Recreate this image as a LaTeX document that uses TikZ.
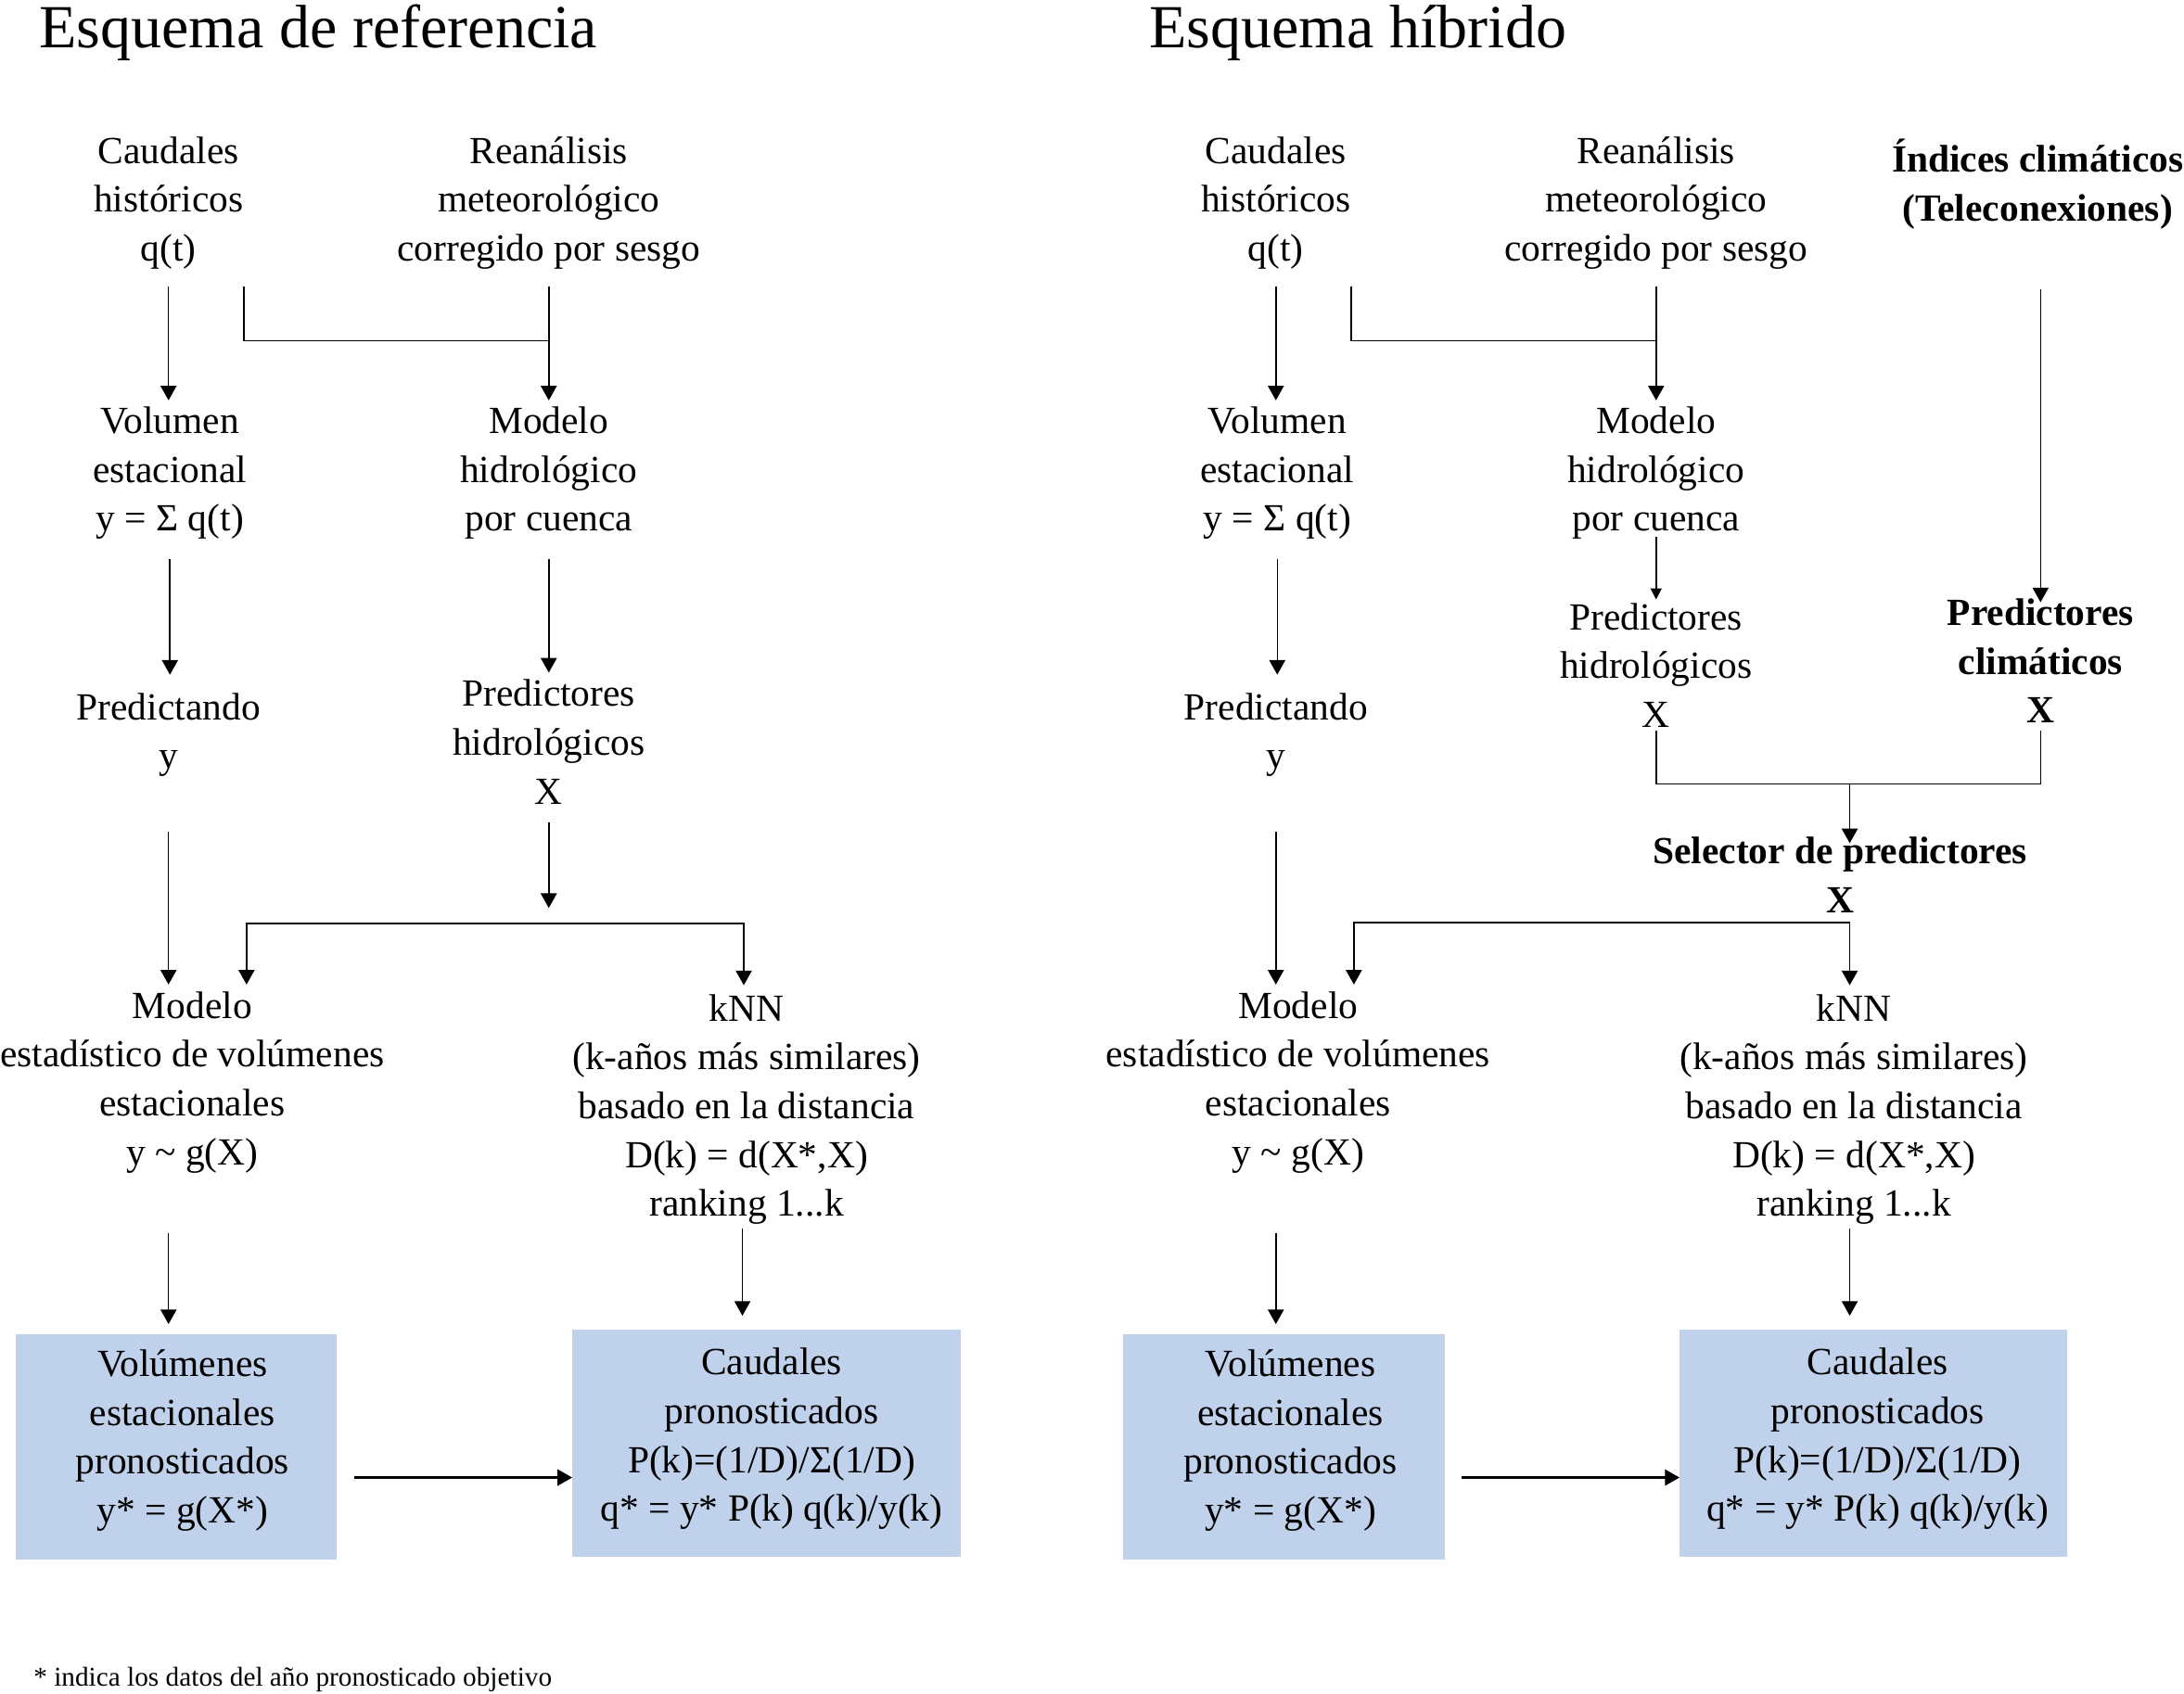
\documentclass[tikz,border=0pt]{standalone}
\usepackage{fontspec}
\setmainfont{Liberation Serif}
\usetikzlibrary{arrows.meta}
\definecolor{boxblue}{RGB}{192,209,235}

\tikzset{
  txt/.style={font=\fontsize{27.6}{35}\selectfont, align=center, inner sep=0pt,
    execute at begin node=\strut, execute at end node=\strut},
  txtb/.style={txt, font=\fontsize{27.6}{35}\selectfont\bfseries},
  outbox/.style={fill=boxblue, inner sep=0pt},
  arr/.style={-{Triangle[length=10.5pt,width=11.5pt]}, line width=1pt},
  arrsmall/.style={-{Triangle[length=8pt,width=8pt]}, line width=1pt},
  title/.style={font=\fontsize{44}{50}\selectfont, anchor=base west, inner sep=0pt},
}

\begin{document}
\begin{tikzpicture}[x=1pt, y=-1pt]
                \useasboundingbox (0,0) rectangle (1568,1215.8);

                % Esquema de referencia
                \node[title] (titleL) at (28,34) {Esquema de referencia};
                \node[txt] (caudL) at (121,148) {Caudales\\históricos\\q(t)};
                \node[txt] (reanL) at (394,148) {Reanálisis\\meteorológico\\corregido por sesgo};
                \node[txt] (volL) at (122,342) {Volumen\\estacional\\y = Σ q(t)};
                \node[txt] (hidroL) at (394,342) {Modelo\\hidrológico\\por cuenca};
                \node[txt] (predyL) at (121,530) {Predictando\\y};
                \node[txt] (predxL) at (394,538) {Predictores\\hidrológicos\\X};
                \node[txt] (estL) at (138,779.5) {Modelo\\estadístico de volúmenes\\estacionales\\y \char`\~{} g(X)};
                \node[txt] (knnL) at (536,799) {kNN\\(k-años más similares)\\basado en la distancia\\D(k) = d(X*,X)\\ranking 1...k};
                \node[outbox, minimum width=231pt, minimum height=162pt] (volpL) at (126.5,1039) {};
                \node[txt] (volpLt) at (131,1036.5) {Volúmenes\\estacionales\\pronosticados\\y* = g(X*)};
                \node[outbox, minimum width=279pt, minimum height=163pt] (caudpL) at (550.5,1036.5) {};
                \node[txt] (caudpLt) at (554,1035.5) {Caudales\\pronosticados\\P(k)=(1/D)/Σ(1/D)\\q* = y* P(k) q(k)/y(k)};
                \coordinate (splitL) at (predxL.south |- 0,663);

                \draw[arr, shorten <=7.5pt, shorten >=4.5pt] (caudL.south) -- (caudL.south |- volL.north);
                \draw[arr, shorten <=7.5pt, shorten >=4.5pt] (reanL.south) -- (hidroL.north);
                \draw[line width=1pt] ([xshift=54pt,yshift=-7.5pt]caudL.south) |- ([yshift=-46.5pt]reanL.south);
                \draw[arr, shorten <=9.5pt, shorten >=13pt] (volL.south) -- (volL.south |- predyL.north);
                \draw[arr, shorten <=9.5pt, shorten >=5pt] (hidroL.south) -- (predxL.north);
                \draw[arr, shorten <=35pt, shorten >=5pt] (predyL.south) -- (predyL.south |- estL.north);
                \draw[arr, shorten <=2.5pt, shorten >=11pt] (predxL.south) -- (splitL);
                \draw[arr, shorten >=5pt] (splitL) -| ([xshift=39pt]estL.north);
                \draw[arr, shorten >=6.5pt] (splitL) -| ([xshift=-2pt]knnL.north);
                \draw[arr, shorten <=38.5pt, shorten >=7pt] ([xshift=-17pt]estL.south) -- ([xshift=-17pt]estL.south |- volpL.north);
                \draw[arr, shorten <=-1.5pt, shorten >=10pt] ([xshift=-3pt]knnL.south) -- ([xshift=-3pt]knnL.south |- caudpL.north);
                \draw[arr, line width=1.6pt, shorten <=12pt] ([yshift=-22pt]volpL.east) -- ([yshift=-22pt]volpL.east -| caudpL.west);

                % Esquema hibrido
                \node[title] (titleR) at (825,34) {Esquema híbrido};
                \node[txt] (caudR) at (916,148) {Caudales\\históricos\\q(t)};
                \node[txt] (reanR) at (1189,148) {Reanálisis\\meteorológico\\corregido por sesgo};
                \node[txtb] (indR) at (1463,134.5) {Índices climáticos\\(Teleconexiones)};
                \node[txt] (volR) at (917,342) {Volumen\\estacional\\y = Σ q(t)};
                \node[txt] (hidroR) at (1189,342) {Modelo\\hidrológico\\por cuenca};
                \node[txt] (predxR) at (1189,483) {Predictores\\hidrológicos\\X};
                \node[txtb] (predcR) at (1465,480) {Predictores\\climáticos\\X};
                \node[txt] (predyR) at (916,530) {Predictando\\y};
                \node[txtb] (selR) at (1321,633.5) {Selector de predictores\\X};
                \node[txt] (estR) at (932,779.5) {Modelo\\estadístico de volúmenes\\estacionales\\y \char`\~{} g(X)};
                \node[txt] (knnR) at (1331,799) {kNN\\(k-años más similares)\\basado en la distancia\\D(k) = d(X*,X)\\ranking 1...k};
                \node[outbox, minimum width=231pt, minimum height=162pt] (volpR) at (921.5,1039) {};
                \node[txt] (volpRt) at (926.5,1036.5) {Volúmenes\\estacionales\\pronosticados\\y* = g(X*)};
                \node[outbox, minimum width=278pt, minimum height=163pt] (caudpR) at (1345,1036.5) {};
                \node[txt] (caudpRt) at (1348,1035.5) {Caudales\\pronosticados\\P(k)=(1/D)/Σ(1/D)\\q* = y* P(k) q(k)/y(k)};
                \coordinate (joinR) at (1328,563);
                \coordinate (splitR) at ([xshift=7pt,yshift=3.5pt]selR.south);

                \draw[arr, shorten <=7.5pt, shorten >=4.5pt] (caudR.south) -- (caudR.south |- volR.north);
                \draw[arr, shorten <=7.5pt, shorten >=4.5pt] (reanR.south) -- (hidroR.north);
                \draw[line width=1pt] ([xshift=54pt,yshift=-7.5pt]caudR.south) |- ([yshift=-46.5pt]reanR.south);
                \draw[arr, shorten <=38.5pt, shorten >=-2.5pt] (predcR.north |- indR.south) -- (predcR.north);
                \draw[arr, shorten <=9.5pt, shorten >=13pt] (volR.south) -- (volR.south |- predyR.north);
                \draw[arrsmall, shorten <=-6.5pt, shorten >=2.5pt] (hidroR.south) -- (predxR.north);
                \draw[line width=1pt] ([yshift=8.5pt]predxR.south) |- (joinR) -| ([yshift=5.5pt]predcR.south);
                \draw[arr, shorten >=-4.5pt] (joinR) -- (joinR |- selR.north);
                \draw[arr, shorten <=35pt, shorten >=5pt] (predyR.south) -- (predyR.south |- estR.north);
                \draw[arr, shorten >=5pt] (splitR) -| ([xshift=40pt]estR.north);
                \draw[arr, shorten >=6.5pt] (splitR) -- (splitR |- knnR.north);
                \draw[arr, shorten <=38.5pt, shorten >=7pt] ([xshift=-16pt]estR.south) -- ([xshift=-16pt]estR.south |- volpR.north);
                \draw[arr, shorten <=-1.5pt, shorten >=10pt] ([xshift=-3pt]knnR.south) -- ([xshift=-3pt]knnR.south |- caudpR.north);
                \draw[arr, line width=1.6pt, shorten <=12pt] ([yshift=-22pt]volpR.east) -- ([yshift=-22pt]volpR.east -| caudpR.west);

                \node[font=\fontsize{19.5}{23}\selectfont, anchor=base west, inner sep=0pt] (nota) at (24,1211) {* indica los datos del año pronosticado objetivo};
\end{tikzpicture}
\end{document}
